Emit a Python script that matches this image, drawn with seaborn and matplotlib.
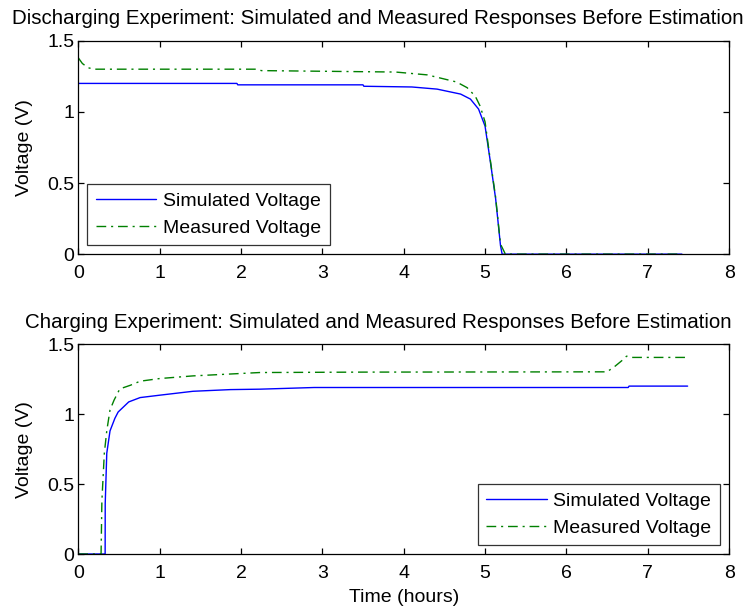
import matplotlib
matplotlib.use("Agg")
import matplotlib.pyplot as plt
import pandas as pd
import seaborn as sns

# Discharging experiment (top panel)
dis_sim_t = [0, 1.95, 1.96, 3.50, 3.51, 4.10, 4.41, 4.70, 4.82, 4.92, 5.00, 5.06, 5.13, 5.19, 5.21, 7.42]
dis_sim_v = [1.20, 1.20, 1.19, 1.19, 1.18, 1.175, 1.16, 1.125, 1.09, 1.02, 0.90, 0.67, 0.39, 0.06, 0.0, 0.0]

dis_meas_t = [0, 0.05, 0.12, 0.20, 2.20, 2.25, 3.90, 4.29, 4.65, 4.78, 4.88, 4.94, 5.00, 5.06, 5.13, 5.19, 5.25, 7.42]
dis_meas_v = [1.38, 1.34, 1.31, 1.30, 1.30, 1.29, 1.28, 1.26, 1.21, 1.17, 1.11, 1.04, 0.93, 0.68, 0.40, 0.07, 0.0, 0.0]

# Charging experiment (bottom panel)
ch_sim_t = [0, 0.33, 0.331, 0.35, 0.39, 0.45, 0.49, 0.62, 0.76, 1.00, 1.41, 1.87, 2.23, 2.90, 6.76, 6.77, 7.49]
ch_sim_v = [0, 0, 0.36, 0.72, 0.88, 0.97, 1.015, 1.087, 1.118, 1.135, 1.163, 1.175, 1.178, 1.19, 1.19, 1.20, 1.20]

ch_meas_t = [0, 0.28, 0.29, 0.32, 0.35, 0.39, 0.44, 0.51, 0.64, 0.76, 1.00, 1.41, 2.23, 3.50,
             6.50, 6.60, 6.69, 6.74, 6.80, 7.49]
ch_meas_v = [0, 0, 0.38, 0.72, 0.88, 1.03, 1.10, 1.18, 1.206, 1.235, 1.254, 1.273, 1.297, 1.30,
             1.302, 1.343, 1.386, 1.414, 1.405, 1.405]

x_ticks = [0, 1, 2, 3, 4, 5, 6, 7, 8]
y_ticks = [0, 0.5, 1, 1.5]
y_tick_labels = ["0", "0.5", "1", "1.5"]

sns.set_style("ticks")
plt.rcParams["font.family"] = ["Liberation Sans", "DejaVu Sans"]
plt.rcParams.update({
    "xtick.direction": "in",
    "ytick.direction": "in",
    "xtick.top": True,
    "ytick.right": True,
    "xtick.major.size": 4,
    "ytick.major.size": 4,
    "axes.linewidth": 0.9,
    "text.color": "black",
    "axes.labelcolor": "black",
    "xtick.color": "black",
    "ytick.color": "black",
})

FS = 14
TITLE_FS = 14.8
BLUE = "#0000ff"
GREEN = "#008000"
DASHDOT = [7, 3.5, 1.5, 3.5]

fig = plt.figure(figsize=(7.55, 6.08), dpi=100)
ax1 = fig.add_axes([0.1037, 0.582, 0.862, 0.351])
ax2 = fig.add_axes([0.1037, 0.0888, 0.862, 0.3452])


def draw_panel(ax, sim_t, sim_v, meas_t, meas_v, legend_loc):
    sim = pd.DataFrame({"t": sim_t, "v": sim_v})
    meas = pd.DataFrame({"t": meas_t, "v": meas_v})
    sns.lineplot(data=sim, x="t", y="v", ax=ax, color=BLUE, lw=1.0,
                 estimator=None, sort=False, label="Simulated Voltage")
    sns.lineplot(data=meas, x="t", y="v", ax=ax, color=GREEN, lw=1.0,
                 estimator=None, sort=False, label="Measured Voltage")
    ax.lines[-1].set_dashes(DASHDOT)
    ax.set_xlim(0, 8)
    ax.set_ylim(0, 1.5)
    ax.set_xticks(x_ticks)
    ax.set_yticks(y_ticks)
    ax.set_yticklabels(y_tick_labels)
    ax.tick_params(labelsize=FS, width=0.9, color="black", labelcolor="black", pad=3)
    ax.tick_params(axis="x", pad=8)
    ax.set_ylabel("Voltage (V)", fontsize=FS, labelpad=10)
    ax.set_xlabel("")
    for sp in ax.spines.values():
        sp.set_color("black")
        sp.set_visible(True)
    leg = ax.legend(loc=legend_loc, fontsize=FS, handlelength=3.1,
                    frameon=True, fancybox=False, edgecolor="black",
                    borderaxespad=0.45, labelspacing=0.45, handletextpad=0.35,
                    borderpad=0.45)
    leg.get_frame().set_linewidth(0.9)
    leg.get_lines()[1].set_dashes(DASHDOT)
    for txt in leg.get_texts():
        txt.set_color("black")


draw_panel(ax1, dis_sim_t, dis_sim_v, dis_meas_t, dis_meas_v, "lower left")
draw_panel(ax2, ch_sim_t, ch_sim_v, ch_meas_t, ch_meas_v, "lower right")
ax2.set_xlabel("Time (hours)", fontsize=FS, labelpad=5)

fig.text(0.501, 0.970, "Discharging Experiment: Simulated and Measured Responses Before Estimation",
         ha="center", va="center", fontsize=TITLE_FS)
fig.text(0.501, 0.470, "Charging Experiment: Simulated and Measured Responses Before Estimation",
         ha="center", va="center", fontsize=TITLE_FS)

fig.savefig("out.png", dpi=100)
